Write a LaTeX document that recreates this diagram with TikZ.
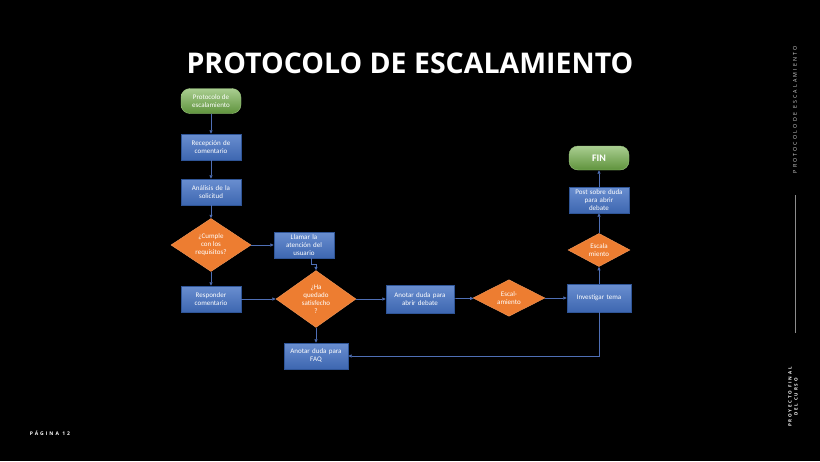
\documentclass[tikz,border=0pt]{standalone}
\usepackage{fontspec}
\usetikzlibrary{shapes.geometric,arrows.meta,positioning}
\setmainfont{Carlito}
\newfontfamily\titlefont{Open Sans}
\newfontfamily\spacedfont[LetterSpace=40]{Open Sans}
\definecolor{boxblue}{HTML}{4472C4}
\definecolor{boxedge}{HTML}{2F5597}
\definecolor{diaorange}{HTML}{ED7D31}
\definecolor{startgreen}{HTML}{70AD47}
\definecolor{linkblue}{HTML}{4F6FB5}

\tikzset{
  procbox/.style={draw=boxedge, top color=boxblue!80!white, bottom color=boxblue!90!black,
    minimum width=60pt, minimum height=26pt, inner sep=1pt, align=center,
    text=white, font=\fontsize{7}{8}\selectfont, text width=56pt},
  decision/.style={diamond, draw=diaorange!80!white, fill=diaorange, inner sep=0pt,
    align=center, text=white, font=\fontsize{7}{8}\selectfont},
  terminal/.style={rounded corners=9pt, draw=startgreen!70!white, top color=startgreen!60!white,
    bottom color=startgreen!85!black, minimum width=60pt, minimum height=25pt, align=center,
    text=white, font=\fontsize{7}{8}\selectfont},
  link/.style={draw=linkblue, line width=0.7pt, -{Triangle[length=3.5pt,width=3pt]}},
}

\begin{document}
\begin{tikzpicture}[x=1pt,y=-1pt]
  \fill[black] (0,0) rectangle (820,461);
  \useasboundingbox (0,0) rectangle (820,461);

  % title and page frame
  \node[text=white, font=\titlefont\bfseries\fontsize{28.5}{30}\selectfont] (title) at (410,63) {PROTOCOLO DE ESCALAMIENTO};
  \node[text=white!85!black, rotate=90, font=\spacedfont\fontsize{5.3}{6}\selectfont] (sidetitle) at (795,110) {PROTOCOLO DE ESCALAMIENTO};
  \draw[white!55!black, line width=0.8pt] (795,195) -- (795,333);
  \node[text=white, rotate=90, align=center, font=\spacedfont\bfseries\fontsize{4.5}{6}\selectfont] (course) at (793,397) {PROYECTO FINAL\\DEL CURSO};
  \node[text=white, font=\spacedfont\bfseries\fontsize{5}{6}\selectfont] (page) at (50,433) {PÁGINA 12};

  % nodes
  \node[terminal] (start) at (211,101) {Protocolo de\\escalamiento};
  \node[procbox] (recep) at (211,147) {Recepción de\\comentario};
  \node[procbox] (analisis) at (211,192) {Análisis de la\\solicitud};
  \node[decision, minimum width=80pt, minimum height=42pt] (cumple) at (211,245) {¿Cumple\\con los\\requisitos?};
  \node[procbox] (llamar) at (304,245) {Llamar la\\atención del\\usuario};
  \node[procbox] (responder) at (211,299) {Responder\\comentario};
  \node[decision, minimum width=80pt, minimum height=48pt] (satisf) at (316,299) {¿Ha\\quedado\\satisfecho\\?};
  \node[procbox, minimum width=64pt] (faq) at (316,356) {Anotar duda para\\FAQ};
  \node[procbox, minimum width=68pt, text width=64pt, minimum height=28pt] (anotar) at (420,299) {Anotar duda para\\abrir debate};
  \node[decision, minimum width=72pt, minimum height=36pt] (escal) at (509,298) {Escal-\\amiento};
  \node[procbox, minimum width=64pt, minimum height=28pt] (investigar) at (599,298) {Investigar tema};
  \node[decision, minimum width=62pt, minimum height=32pt] (escalb) at (599,250) {Escala\\miento};
  \node[procbox] (post) at (599,200) {Post sobre duda\\para abrir\\debate};
  \node[terminal, minimum height=24pt, font=\bfseries\fontsize{10}{11}\selectfont] (fin) at (599,158) {FIN};

  % connectors
  \draw[link] (start) -- (recep);
  \draw[link] (recep) -- (analisis);
  \draw[link] (analisis) -- (cumple);
  \draw[link] (cumple) -- (llamar);
  \draw[link] (cumple) -- (responder);
  \draw[link] ([xshift=7pt]llamar.south) -- ++(0,6) -| (satisf.north);
  \draw[link] (responder) -- (satisf);
  \draw[link] (satisf) -- (faq);
  \draw[link] (satisf) -- (anotar);
  \draw[link] (anotar) -- (escal);
  \draw[link] (escal) -- (investigar);
  \draw[link] (investigar) -- (escalb);
  \draw[link] (escalb) -- (post);
  \draw[link] (post) -- (fin);
  \draw[link] (investigar.south) |- (faq.east);
\end{tikzpicture}
\end{document}
